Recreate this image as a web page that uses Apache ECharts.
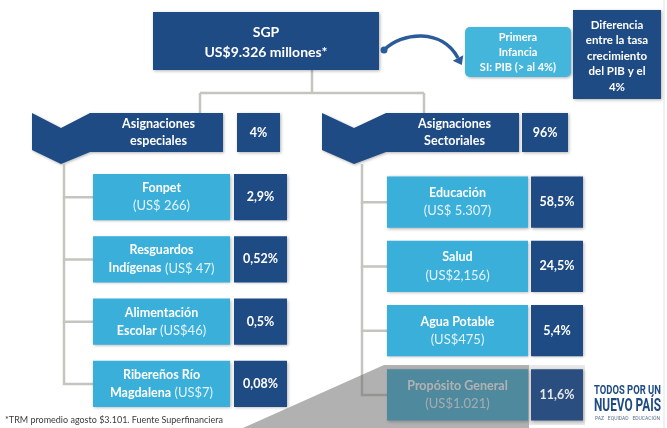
<!DOCTYPE html>
<html>
<head>
<meta charset="utf-8">
<script src="https://cdn.jsdelivr.net/npm/echarts@6/dist/echarts.min.js"></script>
<style>
html, body { margin: 0; padding: 0; background: #fff; }
#main { width: 667px; height: 428px; }
</style>
</head>
<body>
<div id="main"></div>
<script>
// datos del esquema
var total = 'US$9.326 millones*';
var infanciaText = 'Primera\nInfancia\nSI: PIB (> al 4%)';
var diferenciaText = 'Diferencia\nentre la tasa\ncrecimiento\ndel PIB y el\n4%';
var headerNames = ['Asignaciones\nespeciales', 'Asignaciones\nSectoriales'];
var headerPcts = [4, 96];
var leftNames = ['Fonpet', 'Resguardos\nIndígenas', 'Alimentación\nEscolar', 'Ribereños Río\nMagdalena'];
var leftAmounts = ['(US$ 266)', '(US$ 47)', '(US$46)', '(US$7)'];
var leftPcts = [2.9, 0.52, 0.5, 0.08];
var rightNames = ['Educación', 'Salud', 'Agua Potable', 'Propósito General'];
var rightAmounts = ['(US$ 5.307)', '(US$2,156)', '(US$475)', '(US$1.021)'];
var rightPcts = [58.5, 24.5, 5.4, 11.6];
var nota = '*TRM promedio agosto $3.101. Fuente Superfinanciera';
var logo = ['TODOS POR UN', 'NUEVO PAÍS', 'PAZ   EQUIDAD   EDUCACIÓN'];

var W = 667, H = 428;
var DARK = '#1f4b84', LIGHT = '#39afd9', INFANT = '#44b5db', LINE = '#c5c5bf', ARROW = '#2a5b9b';
var FONT = 'Lato, "Open Sans", sans-serif';
var SHADOW = { shadowBlur: 3, shadowColor: 'rgba(0,0,0,0.3)', shadowOffsetX: 1, shadowOffsetY: 1 };

// layout (pixeles sobre los ejes 0..W / 0..H)
var HEAD = { x0: [32, 322], x1: [223, 519], notch: [58, 64], pct0: [237, 522], pct1: [280, 568], top: 113, bot: 152, tip: 164 };
var LEFT = { tree: 64, lab0: 93, lab1: 230, pct0: 234, pct1: 287, hFrac: 0.74 };
var RIGHT = { tree: 362, lab0: 387, lab1: 528, pct0: 531, pct1: 583, hFrac: 0.8 };

function pctText(v) { return String(v).replace('.', ',') + '%'; }
function ext(o, e) { for (var k in e) o[k] = e[k]; return o; }
function rectAt(api, x0, y0, x1, y1) {
  var a = api.coord([x0, y0]), b = api.coord([x1, y1]);
  return { x: a[0], y: a[1], width: b[0] - a[0], height: b[1] - a[1] };
}
function seg(api, pts, w, color) {
  return { type: 'polyline', shape: { points: pts.map(function (p) { return api.coord(p); }) },
    style: { stroke: color || LINE, lineWidth: w || 2.5, fill: null } };
}
function label(x, y, text, font, lh, fill) {
  return { type: 'text', x: x, y: y, style: { text: text, fill: fill || '#fff', font: font,
    align: 'center', verticalAlign: 'middle', lineHeight: lh } };
}

function renderTop(params, api) {
  var ch = [];
  ch.push(seg(api, [[312, 70], [312, 93]]));
  ch.push(seg(api, [[200, 93], [424, 93]]));
  ch.push(seg(api, [[200, 93], [200, 113]]));
  ch.push(seg(api, [[424, 93], [424, 113]]));
  ch.push({ type: 'rect', shape: rectAt(api, 153, 12, 379, 70), style: ext({ fill: DARK }, SHADOW) });
  var c = api.coord([266, 42]);
  ch.push(label(c[0], c[1], 'SGP\n' + total, 'bold 14px ' + FONT, 20));

  // flecha curva
  var p0 = api.coord([384, 50]), p1 = api.coord([402, 32]), p2 = api.coord([442, 28]), p3 = api.coord([458, 58]);
  ch.push({ type: 'bezierCurve', shape: { x1: p0[0], y1: p0[1], cpx1: p1[0], cpy1: p1[1], cpx2: p2[0], cpy2: p2[1], x2: p3[0], y2: p3[1] },
    style: { stroke: ARROW, lineWidth: 3.5, fill: null } });
  ch.push({ type: 'circle', shape: { cx: p0[0], cy: p0[1], r: 3.5 }, style: { fill: ARROW } });
  var dx = p3[0] - p2[0], dy = p3[1] - p2[1], L = Math.sqrt(dx * dx + dy * dy);
  dx /= L; dy /= L;
  ch.push({ type: 'polygon', shape: { points: [[p3[0] + dx * 8, p3[1] + dy * 8], [p3[0] - dy * 6, p3[1] + dx * 6], [p3[0] + dy * 6, p3[1] - dx * 6]] },
    style: { fill: ARROW } });

  ch.push({ type: 'rect', shape: ext(rectAt(api, 465, 27, 571, 77), { r: 5 }), style: ext({ fill: INFANT }, SHADOW) });
  c = api.coord([518, 52]);
  ch.push(label(c[0], c[1], infanciaText, 'bold 11px ' + FONT, 15));
  ch.push({ type: 'rect', shape: rectAt(api, 573, 10, 661, 99), style: ext({ fill: DARK }, SHADOW) });
  c = api.coord([617, 56]);
  ch.push(label(c[0], c[1], diferenciaText, 'bold 11.5px ' + FONT, 15.5));
  return { type: 'group', children: ch };
}

function renderHeader(params, api) {
  var i = params.dataIndex;
  var x0 = HEAD.x0[i], x1 = HEAD.x1[i], n = HEAD.notch[i], t = HEAD.top, b = HEAD.bot;
  var pts = [[x0, t], [x0 + n / 2, t + 15], [x0 + n, t], [x1, t], [x1, b], [x0 + n, b], [x0 + n / 2, HEAD.tip], [x0, b - 2]];
  var ch = [];
  ch.push({ type: 'polygon', shape: { points: pts.map(function (p) { return api.coord(p); }) }, style: ext({ fill: DARK }, SHADOW) });
  var c = api.coord([(x0 + n + x1) / 2 + 2, (t + b) / 2]);
  ch.push(label(c[0], c[1], headerNames[i], 'bold 12.5px ' + FONT, 17));
  ch.push({ type: 'rect', shape: rectAt(api, HEAD.pct0[i], t, HEAD.pct1[i], b), style: ext({ fill: DARK }, SHADOW) });
  c = api.coord([(HEAD.pct0[i] + HEAD.pct1[i]) / 2, (t + b) / 2]);
  ch.push(label(c[0], c[1], pctText(api.value(1)), 'bold 12.5px ' + FONT, 16));
  return { type: 'group', children: ch };
}

function itemText(name, amount) {
  var lines = name.split('\n');
  if (lines.length === 1) return '{b|' + lines[0] + '}\n{n|' + amount + '}';
  return '{b|' + lines[0] + '}\n{b|' + lines[1] + '} {n|' + amount + '}';
}

function makeItems(Lay, names, amounts) {
  return function (params, api) {
    var i = params.dataIndex;
    var cy = api.coord([0, i])[1];
    var band = api.size([0, 1])[1];
    var h = band * Lay.hFrac;
    var top = cy - h / 2;
    var X = function (x) { return api.coord([x, i])[0]; };
    var prev = i === 0 ? HEAD.tip : api.coord([0, i - 1])[1];
    var ch = [];
    ch.push({ type: 'polyline', shape: { points: [[X(Lay.tree), prev], [X(Lay.tree), cy], [X(Lay.lab0), cy]] },
      style: { stroke: LINE, lineWidth: 2.5, fill: null } });
    ch.push({ type: 'rect', shape: { x: X(Lay.lab0), y: top, width: X(Lay.lab1) - X(Lay.lab0), height: h }, style: ext({ fill: LIGHT }, SHADOW) });
    ch.push({ type: 'rect', shape: { x: X(Lay.pct0), y: top, width: X(Lay.pct1) - X(Lay.pct0), height: h }, style: ext({ fill: DARK }, SHADOW) });
    ch.push({ type: 'text', x: (X(Lay.lab0) + X(Lay.lab1)) / 2, y: cy, style: {
      text: itemText(names[i], amounts[i]), align: 'center', verticalAlign: 'middle',
      rich: {
        b: { fill: '#fff', fontWeight: 'bold', fontSize: 12.5, fontFamily: FONT, lineHeight: 18 },
        n: { fill: '#e4f3fa', fontSize: 13, fontFamily: FONT, lineHeight: 18 }
      } } });
    ch.push(label((X(Lay.pct0) + X(Lay.pct1)) / 2, cy, pctText(api.value(2)), 'bold 12.5px ' + FONT, 16));
    return { type: 'group', children: ch };
  };
}

var measure = document.createElement('canvas').getContext('2d');
function fitText(api, text, x0, x1, cy, font, fill) {
  measure.font = font;
  var w = measure.measureText(text).width;
  var a = api.coord([x0, cy]), b = api.coord([x1, cy]);
  return { type: 'text', x: a[0], y: a[1], scaleX: (b[0] - a[0]) / w,
    style: { text: text, font: font, fill: fill, align: 'left', verticalAlign: 'middle' } };
}

function renderOverlay(params, api) {
  var ch = [];
  ch.push({ type: 'polygon', shape: { points: [[234, 432], [384, 365], [529, 365], [529, 432]].map(function (p) { return api.coord(p); }) },
    style: { fill: 'rgba(100,100,100,0.5)' } });
  ch.push({ type: 'rect', shape: rectAt(api, 529, 365, 585, 425), style: { fill: 'rgba(100,100,100,0.15)' } });
  var c = api.coord([5, 420]);
  ch.push({ type: 'text', x: c[0], y: c[1], style: { text: nota, font: '9px ' + FONT, fill: '#3a3a3a', align: 'left', verticalAlign: 'middle' } });
  ch.push(fitText(api, logo[0], 594, 661, 391, 'bold 13px Roboto, sans-serif', DARK));
  ch.push(fitText(api, logo[1], 594, 661, 406, 'bold 18px Roboto, sans-serif', DARK));
  ch.push(fitText(api, logo[2], 595, 660, 419, '5px Roboto, sans-serif', '#5a6f8f'));
  ch.push(seg(api, [[664, 0], [664, 428]], 1, '#e2e2e2'));
  return { type: 'group', children: ch };
}

var chart = echarts.init(document.getElementById('main'));
chart.setOption({
  animation: false,
  grid: [
    { left: 0, top: 0, right: 0, bottom: 0 },
    { left: 0, right: 0, top: 166, height: 249 },
    { left: 0, right: 0, top: 170, height: 257 }
  ],
  xAxis: [0, 1, 2].map(function (g) { return { type: 'value', gridIndex: g, min: 0, max: W, show: false }; }),
  yAxis: [
    { type: 'value', gridIndex: 0, min: 0, max: H, inverse: true, show: false },
    { type: 'category', gridIndex: 1, data: leftNames, inverse: true, show: false },
    { type: 'category', gridIndex: 2, data: rightNames, inverse: true, show: false }
  ],
  series: [
    { type: 'custom', xAxisIndex: 0, yAxisIndex: 0, z: 1, clip: false, renderItem: renderTop, data: [[0, 0]] },
    { type: 'custom', xAxisIndex: 0, yAxisIndex: 0, z: 2, clip: false, renderItem: renderHeader,
      data: headerPcts.map(function (p, i) { return [i, p]; }) },
    { type: 'custom', xAxisIndex: 1, yAxisIndex: 1, z: 3, clip: false, renderItem: makeItems(LEFT, leftNames, leftAmounts),
      encode: { x: 0, y: 1 }, data: leftPcts.map(function (p, i) { return [0, i, p]; }) },
    { type: 'custom', xAxisIndex: 2, yAxisIndex: 2, z: 3, clip: false, renderItem: makeItems(RIGHT, rightNames, rightAmounts),
      encode: { x: 0, y: 1 }, data: rightPcts.map(function (p, i) { return [0, i, p]; }) },
    { type: 'custom', xAxisIndex: 0, yAxisIndex: 0, z: 10, clip: false, renderItem: renderOverlay, data: [[0, 0]] }
  ]
});
</script>
</body>
</html>
